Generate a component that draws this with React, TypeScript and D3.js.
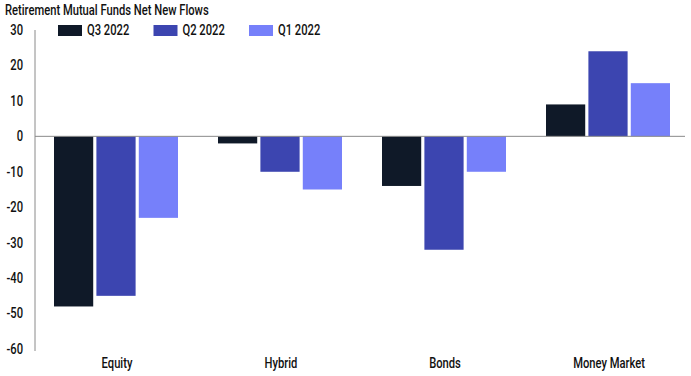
import React from "react";
import * as d3 from "d3";

const categories = ["Equity", "Hybrid", "Bonds", "Money Market"];
const seriesNames = ["Q3 2022", "Q2 2022", "Q1 2022"];
const q3Values = [-48, -2, -14, 9];
const q2Values = [-45, -10, -32, 24];
const q1Values = [-23, -15, -10, 15];
const yTicks = [30, 20, 10, 0, -10, -20, -30, -40, -50, -60];
const colors = ["#0f1928", "#3c45b0", "#7680fa"];

const W = 691;
const H = 376;
const FONT = "Roboto, 'Liberation Sans', sans-serif";
const SX = 0.8;

function CText({
  x,
  y,
  children,
  anchor = "start",
  size = 14,
}: {
  x: number;
  y: number;
  children: React.ReactNode;
  anchor?: "start" | "middle" | "end";
  size?: number;
}) {
  return (
    <text
      transform={`translate(${x},${y}) scale(${SX},1)`}
      fontSize={size}
      fontWeight={500}
      textAnchor={anchor}
      dy="0.35em"
      fill="#111"
    >
      {children}
    </text>
  );
}

export default function App() {
  const seriesValues = [q3Values, q2Values, q1Values];
  const x0 = d3.scaleBand<string>().domain(categories).range([35, 691]).paddingInner(0).paddingOuter(0);
  const x1 = d3
    .scaleBand<string>()
    .domain(seriesNames)
    .range([19, x0.bandwidth() - 21])
    .paddingInner(0.075)
    .paddingOuter(0);
  const y = d3.scaleLinear().domain([-60, 30]).range([349, 30]);

  return (
    <div style={{ position: "absolute", left: 0, top: 0 }}>
      <svg width={W} height={H} style={{ display: "block", fontFamily: FONT }}>
        <rect width={W} height={H} fill="#ffffff" />
        <CText x={5} y={10}>Retirement Mutual Funds Net New Flows</CText>
        {seriesNames.map((s, i) => (
          <g key={s} transform={`translate(${58 + i * 95.5},0)`}>
            <rect x={0} y={25} width={24} height={11} fill={colors[i]} />
            <CText x={29} y={30.5}>{s}</CText>
          </g>
        ))}
        {yTicks.map((t) => (
          <CText key={t} x={23} y={y(t)} anchor="end">
            {t}
          </CText>
        ))}
        {categories.map((c, ci) => (
          <g key={c} transform={`translate(${x0(c)},0)`}>
            {seriesNames.map((s, si) => {
              const v = seriesValues[si][ci];
              return (
                <rect
                  key={s}
                  x={x1(s)}
                  width={x1.bandwidth()}
                  y={Math.min(y(v), y(0))}
                  height={Math.abs(y(v) - y(0))}
                  fill={colors[si]}
                />
              );
            })}
            <CText x={x0.bandwidth() / 2} y={363} anchor="middle">
              {c}
            </CText>
          </g>
        ))}
        <line x1={35} x2={685} y1={y(0)} y2={y(0)} stroke="#8a8a8a" strokeWidth={1} />
        <line x1={35} x2={35} y1={30} y2={351} stroke="#8a8a8a" strokeWidth={1} />
      </svg>
    </div>
  );
}
